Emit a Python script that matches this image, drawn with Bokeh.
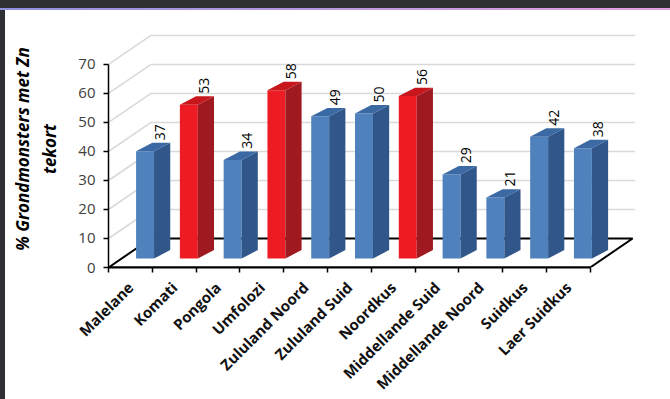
from math import pi
from bokeh.plotting import figure
from bokeh.models import ColumnDataSource, FixedTicker, Range1d, Div
from bokeh.layouts import column, row
from bokeh.embed import file_html
from bokeh.resources import INLINE
from bokeh.core.properties import value

# ---- data ----
categories = ["Malelane", "Komati", "Pongola", "Umfolozi", "Zululand Noord",
              "Zululand Suid", "Noordkus", "Middellande Suid", "Middellande Noord",
              "Suidkus", "Laer Suidkus"]
values = [37, 53, 34, 58, 49, 50, 56, 29, 21, 42, 38]
highlighted = ["Komati", "Umfolozi", "Noordkus"]
y_ticks = [0, 10, 20, 30, 40, 50, 60, 70]
y_title = "% Grondmonsters met Zn\ntekort"

# ---- style constants (3-D look) ----
DEPTH_X, DEPTH_Y = 0.97, 10.0      # back wall offset
BAR_BASE = 3.1                     # bars stand a little back on the floor
BAR_L, BAR_R = 0.63, 1.04          # front face within category slot
SIDE_X, SIDE_Y = 0.37, 2.9         # bar depth
LABEL_X, LABEL_GAP = 1.17, 0.9
X_END, Y_END, GRID_END = 12.15, 81.7, 12.03
FONT = "Open Sans"

n = len(categories)
blue = ("#4F81BD", "#30568A", "#3B69A3")
red = ("#ED1C24", "#9E1A20", "#C8161D")
cols = [red if c in highlighted else blue for c in categories]

x0 = [i + BAR_L for i in range(n)]
x1 = [i + BAR_R for i in range(n)]
tops = [BAR_BASE + v for v in values]

bars = ColumnDataSource(dict(
    left=x0, right=x1, bottom=[BAR_BASE] * n, top=tops,
    front=[c[0] for c in cols], side=[c[1] for c in cols], topc=[c[2] for c in cols],
    side_xs=[[r, r + SIDE_X, r + SIDE_X, r] for r in x1],
    side_ys=[[BAR_BASE, BAR_BASE + SIDE_Y, t + SIDE_Y, t] for t in tops],
    top_xs=[[l, r, r + SIDE_X, l + SIDE_X] for l, r in zip(x0, x1)],
    top_ys=[[t, t, t + SIDE_Y, t + SIDE_Y] for t in tops],
    lx=[i + LABEL_X for i in range(n)],
    ly=[t + SIDE_Y + LABEL_GAP for t in tops],
    txt=[str(v) for v in values],
))

p = figure(frame_width=532, frame_height=237,
           x_range=Range1d(0, X_END), y_range=Range1d(0, Y_END),
           output_backend="svg", toolbar_location=None,
           min_border_left=103, min_border_right=30,
           min_border_top=20, min_border_bottom=132, margin=0)
p.grid.visible = False
p.outline_line_color = None
p.background_fill_color = "white"
p.border_fill_color = "white"

# back wall + left wall gridlines
grid = ColumnDataSource(dict(
    xs=[[0, DEPTH_X, GRID_END] for v in y_ticks[1:]],
    ys=[[v, v + DEPTH_Y, v + DEPTH_Y] for v in y_ticks[1:]],
))
p.multi_line("xs", "ys", source=grid, line_color="#D9D9D9", line_width=1.6)

# floor
p.patch([0, n, n + DEPTH_X, DEPTH_X], [0, 0, DEPTH_Y, DEPTH_Y],
        fill_color="white", line_color="black", line_width=2)

# bars
p.quad(left="left", right="right", bottom="bottom", top="top",
       fill_color="front", line_color=None, source=bars)
p.patches("side_xs", "side_ys", fill_color="side", line_color=None, source=bars)
p.patches("top_xs", "top_ys", fill_color="topc", line_color=None, source=bars)

# value labels
p.text(x="lx", y="ly", text="txt", source=bars, angle=pi / 2,
       text_align="left", text_baseline="middle",
       text_font=value(FONT), text_font_size="14px", text_color="black")

# x axis
xa = p.xaxis[0]
xa.ticker = FixedTicker(ticks=[i + 0.5 for i in range(n)],
                        minor_ticks=list(range(n + 1)))
xa.major_label_overrides = {i + 0.5: c for i, c in enumerate(categories)}
xa.major_label_orientation = pi / 4
xa.bounds = (0, n)
xa.axis_line_color = "black"
xa.axis_line_width = 2
xa.major_tick_out = 0
xa.major_tick_in = 0
xa.minor_tick_out = 5
xa.minor_tick_in = 0
xa.minor_tick_line_color = "black"
xa.minor_tick_line_width = 1.5
xa.major_label_standoff = 12
xa.major_label_text_font = FONT
xa.major_label_text_font_style = "bold"
xa.major_label_text_font_size = "15px"
xa.major_label_text_color = "#111111"

# y axis
ya = p.yaxis[0]
ya.ticker = FixedTicker(ticks=y_ticks, minor_ticks=[])
ya.bounds = (0, 70)
ya.axis_line_color = "black"
ya.axis_line_width = 1.5
ya.major_tick_out = 5
ya.major_tick_in = 0
ya.major_tick_line_color = "black"
ya.major_tick_line_width = 1.5
ya.minor_tick_out = 0
ya.minor_tick_in = 0
ya.major_label_text_font = FONT
ya.major_label_text_font_size = "15px"
ya.major_label_text_color = "#404040"
ya.major_label_standoff = 8
ya.axis_label = y_title
ya.axis_label_text_font = FONT
ya.axis_label_text_font_style = "bold italic"
ya.axis_label_text_font_size = "17px"
ya.axis_label_text_color = "black"
ya.axis_label_standoff = 14

top_bar = Div(width=670, height=8, margin=0,
              styles={"background-color": "#2F3033"})
accent = Div(width=670, height=2, margin=0,
             styles={"background": "linear-gradient(90deg, #8F8FE0, #E6A0DF)"})
left_bar = Div(width=5, height=389, margin=0,
               styles={"background-color": "#2F3033"})
layout = column(top_bar, accent, row(left_bar, p, spacing=0, margin=0),
                spacing=0, margin=0)

open("out.html", "w").write(file_html(layout, INLINE))
